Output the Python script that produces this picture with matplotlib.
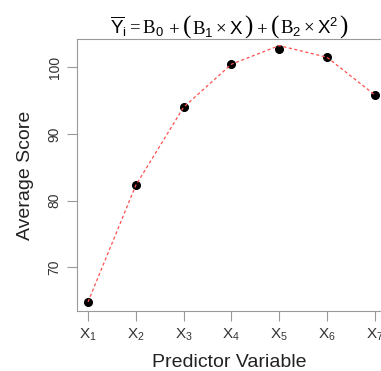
import matplotlib
matplotlib.use('Agg')
import matplotlib.pyplot as plt
from matplotlib.offsetbox import TextArea, HPacker, AnchoredOffsetbox

# data
predictors = [1, 2, 3, 4, 5, 6, 7]
tick_labels = [r'$\mathsf{X}_{\mathsf{%d}}$' % i for i in predictors]
avg_score = [64.8, 82.3, 94.0, 100.45, 102.75, 101.5, 95.85]
fitted = [64.8, 82.3, 94.0, 100.45, 103.25, 101.5, 95.85]

plt.rcParams['font.family'] = ['Liberation Sans', 'DejaVu Sans']
plt.rcParams['mathtext.fontset'] = 'custom'
plt.rcParams['mathtext.rm'] = 'Liberation Serif'
plt.rcParams['mathtext.sf'] = 'Liberation Sans'
plt.rcParams['mathtext.it'] = 'Liberation Sans:italic'

grey = '#9a9a9a'

fig = plt.figure(figsize=(3.81, 3.71), dpi=100)
ax = fig.add_axes([0.2021, 0.1604, 0.7979, 0.7345])

ax.plot(predictors, avg_score, 'o', color='black', markersize=5.5, zorder=2)
ax.plot(predictors, fitted, '--', color='#ff5050', linewidth=0.9, dashes=(2.5, 2), zorder=3)

ax.set_xlim(0.77, 7.13)
ax.set_ylim(63.37, 104.24)
ax.set_xticks(predictors)
ax.set_xticklabels(tick_labels, fontsize=11)
ax.set_yticks([70, 80, 90, 100])
ax.set_yticklabels(['70', '80', '90', '100'], rotation=90, va='center', fontsize=10)

for s in ['left', 'bottom', 'top']:
    ax.spines[s].set_color(grey)
ax.spines['right'].set_visible(False)
ax.tick_params(colors=grey, length=7, labelcolor='#333333', pad=4)

ax.set_xlabel('Predictor Variable', fontsize=14, labelpad=8, color='#222222')
ax.set_ylabel('Average Score', fontsize=14, labelpad=10, color='#222222')

# title: pieces so the brackets can be drawn larger than the rest
body = dict(size=13.5)
paren = dict(size=18, family='Liberation Serif')


def bracketed(tex):
    parts = [TextArea('(', textprops=paren), TextArea(tex, textprops=body),
             TextArea(')', textprops=paren)]
    return HPacker(children=parts, align='baseline', pad=0, sep=0.5)


groups = [
    TextArea(r'$\overline{\mathsf{Y}}_{\mathsf{i}} = \mathrm{B}_{\mathsf{0}}$', textprops=body),
    TextArea(r'$+$', textprops=body),
    bracketed(r'$\mathrm{B}_{\mathsf{1}} \times \mathsf{X}$'),
    TextArea(r'$+$', textprops=body),
    bracketed(r'$\mathrm{B}_{\mathsf{2}} \times \mathsf{X}^{\mathsf{2}}$'),
]
title = HPacker(children=groups, align='baseline', pad=0, sep=2.5)
box = AnchoredOffsetbox(loc='lower center', child=title, pad=0, borderpad=0,
                        frameon=False, bbox_to_anchor=(0.5, 1.0),
                        bbox_transform=ax.transAxes)
ax.add_artist(box)

fig.savefig('out.png', dpi=100)
